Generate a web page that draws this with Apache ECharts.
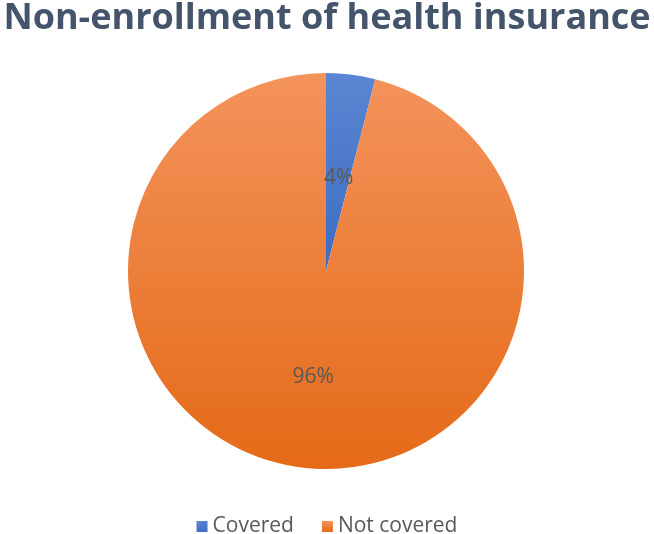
<!DOCTYPE html>
<html>
<head>
    <meta charset="utf-8">
    <title>Non-enrollment of health insurance</title>
    <script src="https://cdn.jsdelivr.net/npm/echarts@6/dist/echarts.min.js"></script>
    <style>
        html, body { margin: 0; padding: 0; background: #fff; }
        #main { width: 654px; height: 534px; }
    </style>
</head>
<body>
<div id="main"></div>
<script>
    // data
    var categories = ['Covered', 'Not covered'];
    var values = [4, 96];

    var colors = [
        ['#5A86D2', '#3D6CC2'],
        ['#F4935C', '#E46A17']
    ];
    // small nudges so labels sit where the original has them
    var labelShift = [8, 5];

    var pieData = [];
    for (var i = 0; i < categories.length; i++) {
        pieData.push({
            name: categories[i],
            value: values[i],
            itemStyle: {
                color: new echarts.graphic.LinearGradient(0, 0, 0, 1, [
                    {offset: 0, color: colors[i][0]},
                    {offset: 1, color: colors[i][1]}
                ])
            }
        });
    }

    var myChart = echarts.init(document.getElementById('main'));
    var option = {
        title: {
            text: 'Non-enrollment of health insurance',
            left: 'center',
            top: -4,
            textStyle: {
                fontFamily: 'Open Sans',
                fontWeight: 'bold',
                fontSize: 36,
                color: '#44546A'
            }
        },
        legend: {
            data: categories,
            top: 511,
            left: 'center',
            icon: 'rect',
            itemWidth: 11,
            itemHeight: 11,
            itemGap: 28,
            textStyle: {
                fontFamily: 'Open Sans',
                fontSize: 21,
                color: '#595959'
            }
        },
        series: [{
            type: 'pie',
            center: [326, 271],
            radius: 198,
            startAngle: 90,
            clockwise: true,
            silent: true,
            data: pieData,
            label: {
                show: true,
                position: 'inside',
                formatter: '{d}%',
                fontFamily: 'Open Sans',
                fontSize: 21,
                color: '#595959'
            },
            labelLayout: function (params) {
                return {dy: labelShift[params.dataIndex]};
            },
            labelLine: {show: false}
        }]
    };
    myChart.setOption(option);
</script>
</body>
</html>
